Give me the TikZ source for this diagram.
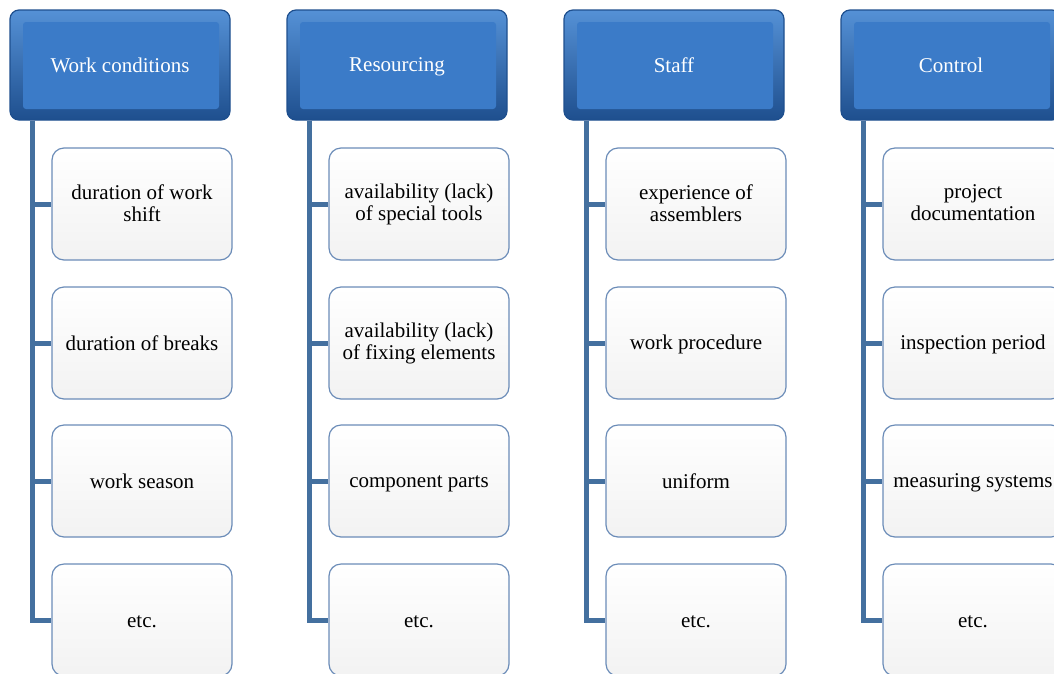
\documentclass[tikz,border=0pt]{standalone}
\usepackage{fontspec}
\setmainfont{Liberation Serif}
\definecolor{hdrmain}{HTML}{3B7BC8}
\definecolor{hdrlight}{HTML}{5591D6}
\definecolor{hdrdark}{HTML}{1E4F8E}
\definecolor{boxline}{HTML}{6B8CB8}
\definecolor{linkblue}{HTML}{44709F}
\newcommand{\boxstrut}{\rule[-2pt]{0pt}{19pt}}

\begin{document}
\begin{tikzpicture}[x=1pt, y=-1pt,
    header/.style ={draw=hdrdark, line width=1.2pt, rounded corners=9pt,
      minimum width=220pt, minimum height=110pt, text=white,
      top color=hdrlight, bottom color=hdrdark,
      font=\fontsize{21}{22}\selectfont,
      execute at begin node=\boxstrut,
      path picture={\fill[hdrmain, rounded corners=3pt]
        ([xshift=13pt,yshift=-12pt]path picture bounding box.north west) rectangle
        ([xshift=-11pt,yshift=11pt]path picture bounding box.south east);}},
    item/.style ={draw=boxline, line width=1.2pt, rounded corners=12pt,
      minimum width=180pt, minimum height=112pt, align=center,
      top color=white, bottom color=black!5,
      font=\fontsize{21}{22}\selectfont,
      execute at begin node=\boxstrut, execute at end node=\boxstrut},
    link/.style ={draw=linkblue, line width=5pt}]
   \useasboundingbox (0,0) rectangle (1054,673);
   \clip (0,0) rectangle (1054,673);

   % headers
   \node[header] (wc)    at (120,65)  {Work conditions};
   \node[header] (res)   at (397,65)  {Resourcing};
   \node[header] (staff) at (674,65)  {Staff};
   \node[header] (ctrl)  at (951,65)  {Control};

   % work conditions
   \node[item] (wc1) at (142,204) {duration of work\\shift};
   \node[item] (wc2) at (142,343) {duration of breaks};
   \node[item] (wc3) at (142,481) {work season};
   \node[item] (wc4) at (142,620) {etc.};

   % resourcing
   \node[item] (res1) at (419,204) {availability (lack)\\of special tools};
   \node[item] (res2) at (419,343) {availability (lack)\\of fixing elements};
   \node[item] (res3) at (419,481) {component parts};
   \node[item] (res4) at (419,620) {etc.};

   % staff
   \node[item] (staff1) at (696,204) {experience of\\assemblers};
   \node[item] (staff2) at (696,343) {work procedure};
   \node[item] (staff3) at (696,481) {uniform};
   \node[item] (staff4) at (696,620) {etc.};

   % control
   \node[item] (ctrl1) at (973,204) {project\\documentation};
   \node[item] (ctrl2) at (973,343) {inspection period};
   \node[item] (ctrl3) at (973,481) {measuring systems};
   \node[item] (ctrl4) at (973,620) {etc.};

   % trunks below the headers
   \coordinate (wct)    at ([xshift=23pt]wc.south west);
   \coordinate (rest)   at ([xshift=23pt]res.south west);
   \coordinate (stafft) at ([xshift=23pt]staff.south west);
   \coordinate (ctrlt)  at ([xshift=23pt]ctrl.south west);

   \draw[link] (wct) |- (wc4.west);
   \draw[link] (wct) |- (wc1.west);
   \draw[link] (wct) |- (wc2.west);
   \draw[link] (wct) |- (wc3.west);

   \draw[link] (rest) |- (res4.west);
   \draw[link] (rest) |- (res1.west);
   \draw[link] (rest) |- (res2.west);
   \draw[link] (rest) |- (res3.west);

   \draw[link] (stafft) |- (staff4.west);
   \draw[link] (stafft) |- (staff1.west);
   \draw[link] (stafft) |- (staff2.west);
   \draw[link] (stafft) |- (staff3.west);

   \draw[link] (ctrlt) |- (ctrl4.west);
   \draw[link] (ctrlt) |- (ctrl1.west);
   \draw[link] (ctrlt) |- (ctrl2.west);
   \draw[link] (ctrlt) |- (ctrl3.west);
 \end{tikzpicture}
\end{document}
